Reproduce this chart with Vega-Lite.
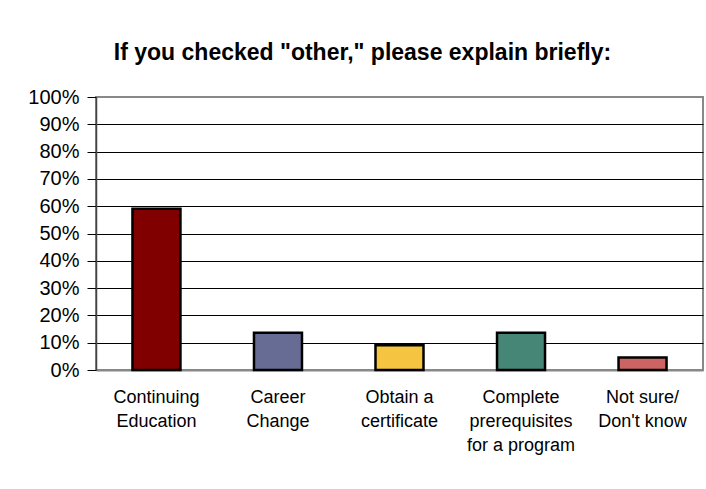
{
  "$schema": "https://vega.github.io/schema/vega-lite/v6.json",
  "autosize": "none",
  "width": 607,
  "height": 273,
  "padding": {"left": 96, "top": 97, "right": 3, "bottom": 119},
  "background": "white",
  "config": {
    "font": "Liberation Sans",
    "view": {"stroke": "#888888", "strokeWidth": 2}
  },
  "title": {
    "text": "If you checked \"other,\" please explain briefly:",
    "font": "Liberation Sans",
    "fontSize": 23,
    "fontWeight": "bold",
    "color": "black",
    "anchor": "middle",
    "dx": -37,
    "offset": 22
  },
  "data": {
    "values": [
      {"category": "Continuing|Education", "share": 0.5909},
      {"category": "Career|Change", "share": 0.1364},
      {"category": "Obtain a|certificate", "share": 0.0909},
      {"category": "Complete|prerequisites|for a program", "share": 0.1364},
      {"category": "Not sure/|Don't know", "share": 0.0455}
    ]
  },
  "mark": {"type": "bar", "stroke": "black", "strokeWidth": 2.5},
  "encoding": {
    "x": {
      "field": "category",
      "type": "nominal",
      "sort": null,
      "scale": {"paddingInner": 0.605, "paddingOuter": 0.3, "align": 0.5},
      "axis": {
        "title": null,
        "labelAngle": 0,
        "labelExpr": "split(datum.label, '|')",
        "labelFontSize": 18,
        "labelLineHeight": 24,
        "labelColor": "black",
        "labelPadding": 18,
        "labelBaseline": "top",
        "ticks": false,
        "domainColor": "#888888",
        "domainWidth": 2
      }
    },
    "y": {
      "field": "share",
      "type": "quantitative",
      "scale": {"domain": [0, 1]},
      "axis": {
        "title": null,
        "format": ".0%",
        "values": [0, 0.1, 0.2, 0.3, 0.4, 0.5, 0.6, 0.7, 0.8, 0.9, 1],
        "labelFontSize": 20,
        "labelColor": "black",
        "labelPadding": 8,
        "tickSize": 9,
        "tickColor": "black",
        "domainColor": "#444444",
        "domainWidth": 1.5,
        "grid": true,
        "gridColor": {"condition": {"test": "datum.value == 0 || datum.value == 1", "value": "#888888"}, "value": "black"},
        "gridWidth": 1
      }
    },
    "color": {
      "field": "category",
      "type": "nominal",
      "sort": null,
      "scale": {"range": ["#800000", "#666C93", "#F5C542", "#468677", "#CC6464"]},
      "legend": null
    }
  }
}
